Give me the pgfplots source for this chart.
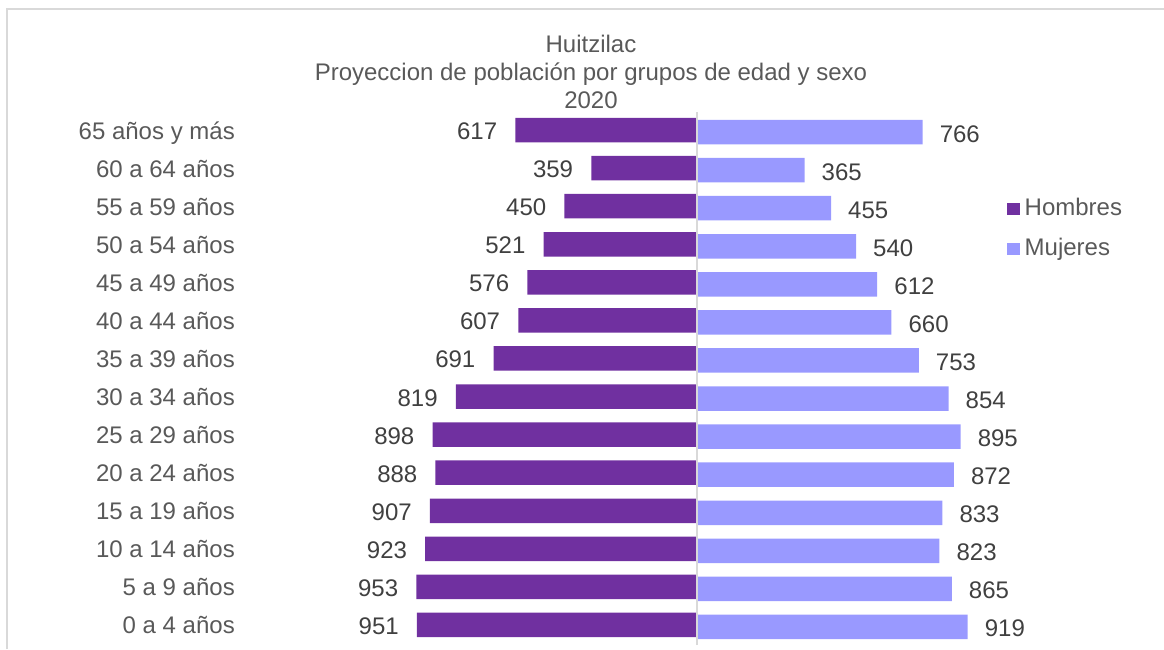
\documentclass[border=0pt]{standalone}
\usepackage{pgfplots}
\pgfplotsset{compat=1.18}
\usepackage{pgfplotstable}
\usepackage{fontspec}
\setmainfont{Liberation Sans}
\definecolor{hombres}{HTML}{7030A0}
\definecolor{mujeres}{HTML}{9999FF}
\definecolor{txt}{HTML}{595959}
\definecolor{val}{HTML}{404040}
\definecolor{frame}{HTML}{D9D9D9}

\pgfplotstableread{
y h m
0 951 919
1 953 865
2 923 823
3 907 833
4 888 872
5 898 895
6 819 854
7 691 753
8 607 660
9 576 612
10 521 540
11 450 455
12 359 365
13 617 766
}\datatable

\begin{document}
\begin{tikzpicture}
\path[use as bounding box] (0,0) rectangle (1164pt,649pt);
\draw[frame, line width=1.3pt] (7pt,0pt) -- (7pt,640pt) -- (1164pt,640pt);
\begin{axis}[
  at={(235pt,4pt)}, anchor=south west,
  scale only axis,
  width=755pt, height=533pt,
  xmin=-1568.8, xmax=994.9,
  ymin=-0.5, ymax=13.5,
  xbar, bar width=24.5pt,
  axis line style={draw=none},
  tick style={draw=none},
  major tick length=0pt,
  xtick=\empty,
  ytick={0,...,13},
  yticklabels={0 a 4 años,5 a 9 años,10 a 14 años,15 a 19 años,20 a 24 años,25 a 29 años,30 a 34 años,35 a 39 años,40 a 44 años,45 a 49 años,50 a 54 años,55 a 59 años,60 a 64 años,65 años y más},
  yticklabel style={anchor=base east, inner sep=0pt, yshift=-8pt, text=txt, font=\fontsize{24}{28}\selectfont},
  tick label style={/pgf/number format/assume math mode=true},
  font=\fontsize{24}{28}\selectfont,
  title={Huitzilac\\Proyeccion de población por grupos de edad y sexo\\2020},
  title style={at={(axis description cs:0.4715,1.0638)}, anchor=center, align=center, text=txt, font=\fontsize{24}{28}\selectfont, inner sep=0pt},
  legend style={at={(axis description cs:1.0183,0.8426)}, anchor=north west, draw=none, fill=none,
    font=\fontsize{24}{28}\selectfont, text=txt,
    nodes={inner sep=0pt, text height=17pt, text depth=5pt},
    row sep=18pt, column sep=0pt},
  legend cell align=left,
  legend image code/.code={\fill[#1, draw=none] (0pt,-6.4pt) rectangle (12.7pt,6.3pt);},
  /tikz/every odd column/.append style={column sep=5pt},
  point meta=explicit symbolic,
  nodes near coords,
  nodes near coords style={font=\fontsize{24}{28}\selectfont, text=val, inner sep=0pt},
]
\addplot[fill=hombres, draw=none, bar shift=1pt,
  every node near coord/.append style={anchor=base east, xshift=-18pt, yshift=-9.5pt}]
  table[x expr=-\thisrow{h}, y=y, meta=h] {\datatable};
\addlegendentry{Hombres}
\addplot[fill=mujeres, draw=none, bar shift=-1pt,
  every node near coord/.append style={anchor=base west, xshift=17pt, yshift=-10pt}]
  table[x=m, y=y, meta=m] {\datatable};
\addlegendentry{Mujeres}
\draw[frame, line width=1.6pt] (axis cs:0,-0.5) -- (axis cs:0,13.5);
\end{axis}
\end{tikzpicture}
\end{document}
